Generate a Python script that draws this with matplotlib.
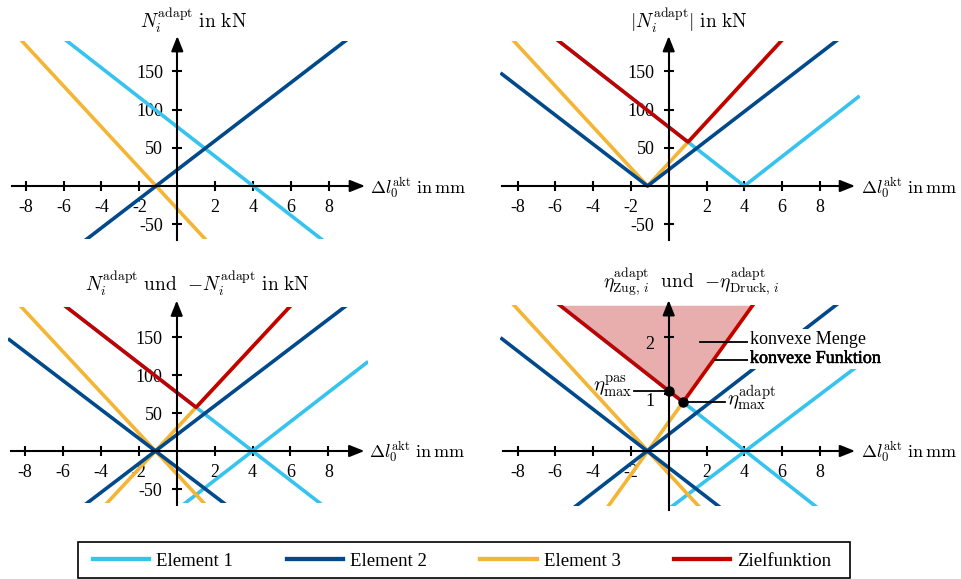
import matplotlib.pyplot as plt
import matplotlib.patheffects as pe
import numpy as np
from matplotlib.lines import Line2D
from matplotlib.patches import Rectangle
from matplotlib.transforms import ScaledTranslation

plt.rcParams["font.family"] = "serif"
plt.rcParams["font.serif"] = ["Liberation Serif", "DejaVu Serif"]
plt.rcParams["mathtext.fontset"] = "cm"

ELEMENT_NAMES = ["Element 1", "Element 2", "Element 3"]
ELEMENT_COLORS = ["#36c3ee", "#00498a", "#f4b535"]
TARGET_NAME = "Zielfunktion"
TARGET_COLOR = "#c20000"
FILL_COLOR = "#e8adad"

# normal force N_i = k_i * (dl - dl0_i), kN over mm
DL_ZERO = [4.0, -1.12, -1.12]
STIFFNESS = [-19.3, 19.0, -26.8]

# utilisation, tension and compression branch per element
ETA_ZERO = [4.05, -1.14, -1.1]
ETA_SLOPE_ZUG = [-0.26, 0.2555, -0.36]
ETA_SLOPE_DRUCK = [0.25, -0.2555, 0.46]

DL_SPAN = (-8.9, 10.1)
N_SPAN = (-69, 189)
ETA_SPAN = (-0.97, 2.55)

X_TICKS = [-8, -6, -4, -2, 2, 4, 6, 8]
N_TICKS = [-50, 50, 100, 150]
ETA_TICKS = [1, 2]

W, H = 961, 579
LW = 2.6
FS = 13


def make_axes(fig, rect, origin, scale):
    # rect / origin in pixels, scale = pixels per data unit
    left, top, width, height = rect
    ox, oy = origin
    sx, sy = scale
    ax = fig.add_axes([left / W, 1 - (top + height) / H, width / W, height / H])
    ax.set_xlim((left - ox) / sx, (left + width - ox) / sx)
    ax.set_ylim((oy - top - height) / sy, (oy - top) / sy)
    ax.patch.set_visible(False)
    for side in ("top", "right"):
        ax.spines[side].set_visible(False)
    for side in ("left", "bottom"):
        ax.spines[side].set_position(("data", 0))
        ax.spines[side].set_linewidth(1.5)
    ax.tick_params(direction="inout", length=7.5, width=1.5, labelsize=FS)
    ax.tick_params(axis="x", pad=5.5)
    ax.tick_params(axis="y", pad=6.5)
    return ax


def draw_frame(ax, x_end, y_end, yticks, ylabels, xlabel, xlabel_pos, ylabel, ylabel_pos):
    ax.spines["bottom"].set_bounds(x_end[0], x_end[1] - 0.3)
    ax.spines["left"].set_bounds(y_end[0], y_end[1] - (y_end[1] - y_end[0]) * 0.03)
    style = "-|>,head_length=0.9,head_width=0.36"
    ax.annotate("", xy=(x_end[1], 0), xytext=(x_end[1] - 0.6, 0),
                arrowprops=dict(arrowstyle=style, color="k", lw=1.5, shrinkA=0, shrinkB=0),
                annotation_clip=False)
    dy = (y_end[1] - y_end[0]) * 0.04
    ax.annotate("", xy=(0, y_end[1]), xytext=(0, y_end[1] - dy),
                arrowprops=dict(arrowstyle=style, color="k", lw=1.5, shrinkA=0, shrinkB=0),
                annotation_clip=False)
    ax.set_xticks(X_TICKS, labels=[str(t) for t in X_TICKS])
    ax.set_yticks(yticks, labels=ylabels)
    ax.text(*xlabel_pos, xlabel, fontsize=FS, ha="left", va="baseline")
    ax.text(*ylabel_pos, ylabel, fontsize=FS + 1, ha="left", va="baseline")


def clipped_line(ax, x, y, color, span, zorder=2):
    (line,) = ax.plot(x, y, color=color, lw=LW, solid_capstyle="butt", zorder=zorder)
    box = Rectangle((DL_SPAN[0], span[0]), DL_SPAN[1] - DL_SPAN[0], span[1] - span[0],
                    transform=ax.transData, facecolor="none", edgecolor="none")
    line.set_clip_path(box)
    return line


def main() -> None:
    fig = plt.figure(figsize=(W / 100, H / 100), dpi=100)
    x = np.linspace(DL_SPAN[0], DL_SPAN[1], 1901)
    forces = [k * (x - x0) for k, x0 in zip(STIFFNESS, DL_ZERO)]
    target = np.max(np.abs(forces), axis=0)
    order = [0, 2, 1]

    xlab = r"$\Delta l_0^{\mathrm{akt}}\ \mathrm{in\,mm}$"
    n_labels = [str(t) for t in N_TICKS]

    # top left: normal forces
    ax1 = make_axes(fig, (0, 0, 480, 260), (177.3, 186), (18.96, 0.765))
    draw_frame(ax1, (-8.73, 9.9), (-70.6, 196), N_TICKS, n_labels, xlab, (10.15, -9),
               r"$N_i^{\mathrm{adapt}}\ \mathrm{in\ kN}$", (-1.97, 206))
    for i in order:
        clipped_line(ax1, x, forces[i], ELEMENT_COLORS[i], N_SPAN)

    # top right: absolute values
    ax2 = make_axes(fig, (480, 0, 481, 260), (668.7, 186), (18.9, 0.765))
    draw_frame(ax2, (-8.84, 9.86), (-70.6, 196), N_TICKS, n_labels, xlab, (10.2, -9),
               r"$|N_i^{\mathrm{adapt}}|\ \mathrm{in\ kN}$", (-2.05, 206))
    for i in order:
        clipped_line(ax2, x, np.abs(forces[i]), ELEMENT_COLORS[i], N_SPAN)
    clipped_line(ax2, x, target, TARGET_COLOR, N_SPAN, zorder=2.2)

    # bottom left: positive and negative branches
    ax3 = make_axes(fig, (0, 260, 480, 260), (176.7, 451), (18.96, 0.76))
    draw_frame(ax3, (-8.73, 9.9), (-71, 198), N_TICKS, n_labels, xlab, (10.15, -9),
               r"$N_i^{\mathrm{adapt}}\ \mathrm{und}\ \ {-N_i^{\mathrm{adapt}}}\ \mathrm{in\ kN}$",
               (-4.84, 210))
    for i in order:
        clipped_line(ax3, x, forces[i], ELEMENT_COLORS[i], N_SPAN)
        clipped_line(ax3, x, -forces[i], ELEMENT_COLORS[i], N_SPAN)
    clipped_line(ax3, x, target, TARGET_COLOR, N_SPAN, zorder=2.2)

    # bottom right: utilisation
    ax4 = make_axes(fig, (480, 260, 481, 260), (668.7, 451), (18.9, 57.15))
    draw_frame(ax4, (-8.78, 9.86), (-1.03, 2.64), ETA_TICKS, [str(t) for t in ETA_TICKS],
               xlab, (10.2, -0.12),
               r"$\eta^{\mathrm{adapt}}_{\mathrm{Zug},\,i}\ \ \mathrm{und}\ \ "
               r"{-\eta^{\mathrm{adapt}}_{\mathrm{Druck},\,i}}$", (-3.48, 2.83))
    shift = ScaledTranslation(0, -0.06, fig.dpi_scale_trans)
    for lab in ax4.get_yticklabels():
        lab.set_transform(lab.get_transform() + shift)
    eta_zug = [s * (x - x0) for s, x0 in zip(ETA_SLOPE_ZUG, ETA_ZERO)]
    eta_druck = [s * (x - x0) for s, x0 in zip(ETA_SLOPE_DRUCK, ETA_ZERO)]
    eta_target = np.max(eta_zug + eta_druck, axis=0)
    ax4.fill_between(x, eta_target, ETA_SPAN[1], where=eta_target <= ETA_SPAN[1],
                     interpolate=True, color=FILL_COLOR, lw=0, zorder=1)
    for i in order:
        clipped_line(ax4, x, eta_zug[i], ELEMENT_COLORS[i], ETA_SPAN)
        clipped_line(ax4, x, eta_druck[i], ELEMENT_COLORS[i], ETA_SPAN)
    clipped_line(ax4, x, eta_target, TARGET_COLOR, ETA_SPAN, zorder=2.2)

    i_pas = np.argmin(np.abs(x))
    i_adapt = np.argmin(eta_target)
    pas = (x[i_pas], eta_target[i_pas])
    adapt = (x[i_adapt], eta_target[i_adapt])
    ax4.plot(*zip(pas, adapt), "o", color="k", ms=6.5, zorder=6)
    ax4.plot([-1.82, pas[0]], [pas[1], pas[1]], color="k", lw=1.3, zorder=5)
    ax4.plot([adapt[0], 3.0], [adapt[1], adapt[1]], color="k", lw=1.3, zorder=5)
    ax4.text(-1.9, pas[1] + 0.07, r"$\eta_{\max}^{\mathrm{pas}}$", fontsize=FS + 2,
             ha="right", va="center", zorder=6)
    ax4.text(3.1, adapt[1] + 0.07, r"$\eta_{\max}^{\mathrm{adapt}}$", fontsize=FS + 2,
             ha="left", va="center", zorder=6)

    box = dict(facecolor="white", edgecolor="none", pad=1.5)
    ax4.plot([1.66, 4.2], [1.91, 1.91], color="k", lw=1.3, zorder=5)
    ax4.plot([2.45, 4.2], [1.59, 1.59], color="k", lw=1.3, zorder=5)
    ax4.text(4.3, 1.95, "konvexe Menge", fontsize=FS, ha="left", va="center",
             bbox=box, zorder=6)
    ax4.text(4.3, 1.62, "konvexe Funktion", fontsize=FS, ha="left", va="center",
             bbox=box, zorder=6,
             path_effects=[pe.withStroke(linewidth=0.4, foreground="black")])

    handles = [Line2D([], [], color=c, lw=LW + 0.5) for c in ELEMENT_COLORS]
    handles.append(Line2D([], [], color=TARGET_COLOR, lw=LW + 0.5))
    fig.legend(handles, ELEMENT_NAMES + [TARGET_NAME], loc="center left",
               bbox_to_anchor=(93 / W, 1 - 561 / H), ncol=4, fontsize=FS + 0.5,
               frameon=False, handlelength=3.0, handletextpad=0.38, columnspacing=2.85,
               borderpad=0, borderaxespad=0)
    fig.patches.append(Rectangle((78 / W, 1 - 578 / H), 772 / W, 36.5 / H,
                                 transform=fig.transFigure, facecolor="none",
                                 edgecolor="black", lw=1.2))

    fig.savefig("out.png", dpi=100, facecolor="white")
    plt.close(fig)


if __name__ == "__main__":
    main()
